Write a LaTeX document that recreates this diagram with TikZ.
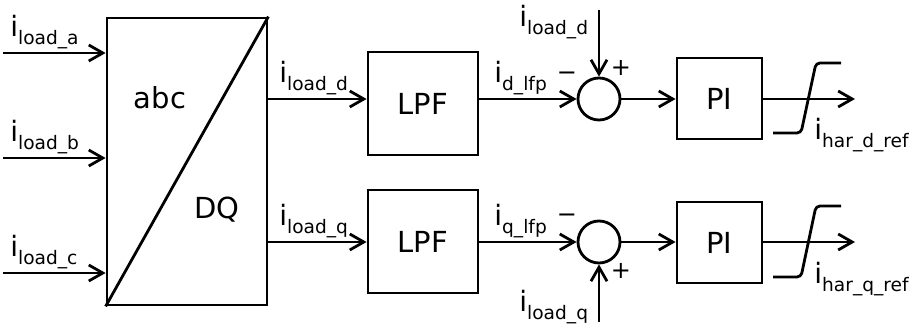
\documentclass[tikz,border=0pt]{standalone}
\usepackage{fontspec}
\setmainfont{DejaVu Sans}
\usetikzlibrary{arrows.meta}

% current label: i with a small lowered index
\newcommand{\cur}[1]{{\fontsize{14}{14}\selectfont i}\raisebox{-4pt}{\fontsize{9.3}{10}\selectfont #1}}

\begin{document}
\begin{tikzpicture}[x=0.5pt,y=-0.5pt,line width=1.4pt,
  >={Straight Barb[length=7pt,width=8pt]},
  blk/.style={draw,inner sep=0pt,font=\fontsize{14.5}{15}\selectfont},
  sumnode/.style={draw,circle,minimum size=21pt,inner sep=0pt},
  lbl/.style={anchor=base west,inner sep=0pt},
  sgn/.style={inner sep=0pt,font=\fontsize{12}{12}\selectfont}]
  \useasboundingbox (0,0) rectangle (911,325);

  % Transformation block
  \node[blk,minimum width=80pt,minimum height=143.5pt] (abc) at (187,161.5) {};
  \draw (abc.south west) -- (abc.north east);
  \node[blk,draw=none] (abctxt) at (160,98) {abc};
  \node[blk,draw=none] (dqtxt) at (217,210) {DQ};

  % Inputs
  \coordinate (ina) at (3,53);
  \coordinate (inb) at (3,158);
  \coordinate (inc) at (3,273);
  \draw[->] (ina) -- (ina -| abc.west);
  \draw[->] (inb) -- (inb -| abc.west);
  \draw[->] (inc) -- (inc -| abc.west);
  \node[lbl] (la) at (9,37) {\cur{load\_a}};
  \node[lbl] (lb) at (9,142) {\cur{load\_b}};
  \node[lbl] (lc) at (9,257) {\cur{load\_c}};

  % Blocks
  \node[blk,minimum width=55pt,minimum height=51.5pt] (lpfd) at (423,103.5) {LPF};
  \node[blk,minimum width=55pt,minimum height=51.5pt] (lpfq) at (423,241.5) {LPF};
  \node[sumnode] (sumd) at (599,99) {};
  \node[sumnode] (sumq) at (599,242) {};
  \node[blk,minimum width=42.5pt,minimum height=40.5pt] (pid) at (719.5,98.5) {PI};
  \node[blk,minimum width=42.5pt,minimum height=40.5pt] (piq) at (719.5,242.5) {PI};

  % d channel
  \draw[->] (abc.east |- sumd) -- (lpfd.west |- sumd);
  \draw[->] (lpfd.east |- sumd) -- (sumd);
  \draw[->] (sumd) -- (pid.west |- sumd);
  \coordinate (refd) at (599,10);
  \draw[->] (refd) -- (sumd.north);
  \coordinate (outd) at (855,99);
  \draw[->] (pid.east |- outd) -- (outd);
  \draw[rounded corners=2pt] (773,133) -- (801,133) -- (816,63) -- (841,63);
  \node[lbl] (ld) at (278,83) {\cur{load\_d}};
  \node[lbl] (lfd) at (493,83) {\cur{d\_lfp}};
  \node[lbl] (lrd) at (518,27) {\cur{load\_d}};
  \node[lbl] (lhd) at (813,140) {\cur{har\_d\_ref}};
  \node[sgn] (md) at (567,76) {−};
  \node[sgn] (pd) at (621,68) {+};

  % q channel
  \draw[->] (abc.east |- sumq) -- (lpfq.west |- sumq);
  \draw[->] (lpfq.east |- sumq) -- (sumq);
  \draw[->] (sumq) -- (piq.west |- sumq);
  \coordinate (refq) at (599,322);
  \draw[->] (refq) -- (sumq.south);
  \coordinate (outq) at (855,242);
  \draw[->] (piq.east |- outq) -- (outq);
  \draw[rounded corners=2pt] (773,277) -- (801,277) -- (816,206) -- (841,206);
  \node[lbl] (lq) at (278,226) {\cur{load\_q}};
  \node[lbl] (lfq) at (493,226) {\cur{q\_lfp}};
  \node[lbl] (lrq) at (518,312) {\cur{load\_q}};
  \node[lbl] (lhq) at (813,284) {\cur{har\_q\_ref}};
  \node[sgn] (mq) at (567,218) {−};
  \node[sgn] (pq) at (621,271) {+};
\end{tikzpicture}
\end{document}
